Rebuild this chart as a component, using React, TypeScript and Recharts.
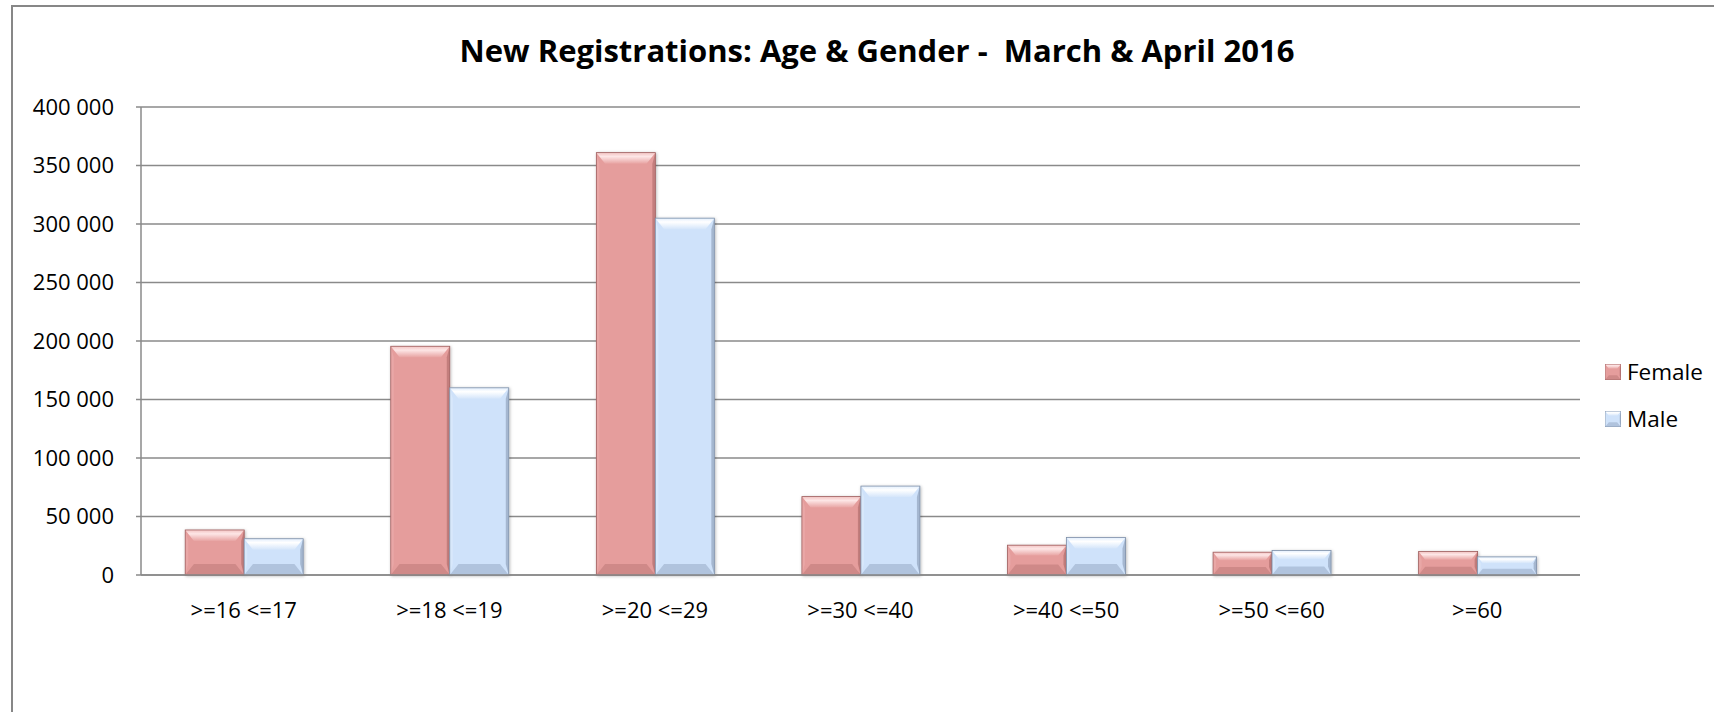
import { BarChart, Bar, XAxis, YAxis, CartesianGrid } from 'recharts';

const categories = ['>=16 <=17', '>=18 <=19', '>=20 <=29', '>=30 <=40', '>=40 <=50', '>=50 <=60', '>=60'];
const femaleValues = [38500, 195500, 361000, 67000, 25500, 19500, 20000];
const maleValues = [31000, 160000, 305000, 76000, 32000, 21000, 15500];
const yTicks = [0, 50000, 100000, 150000, 200000, 250000, 300000, 350000, 400000];
const seriesNames = ['Female', 'Male'];

const FONT = "'Open Sans', 'Liberation Sans', sans-serif";
const GRID = '#8a8a8a';

const chartData = categories.map((cat, i) => ({
  cat,
  female: femaleValues[i],
  male: maleValues[i],
}));

const FEMALE_PAL = {
  id: 'fem',
  base: '#e59d9c',
  topA: '#f3c3c2',
  topB: '#fde6e6',
  topC: '#e8a4a3',
  bottom: '#cf8988',
  left: '#e9a7a6',
  right: '#c47e7d',
  edge: '#9e6161',
};
const MALE_PAL = {
  id: 'mal',
  base: '#cfe2fa',
  topA: '#e2eefd',
  topB: '#ffffff',
  topC: '#d4e5fa',
  bottom: '#b0c3dd',
  left: '#d8e8fb',
  right: '#a5b7d0',
  edge: '#7f90a8',
};

const fmt = (v: number) => String(v).replace(/\B(?=(\d{3})+(?!\d))/g, ' ');

function Bevel({ x, y, w, h, pal, maxB = 11 }: any) {
  if (!h || h <= 0) return null;
  const b = Math.min(maxB, h * 0.35, w * 0.3);
  const bx = b * 0.8;
  const s = Math.min(3, w * 0.08);
  return (
    <g>
      <rect x={x} y={y} width={w} height={h} fill={pal.base} />
      <polygon points={`${x},${y} ${x + s},${y + b} ${x + s},${y + h - b} ${x},${y + h}`} fill={pal.left} />
      <polygon points={`${x + w},${y} ${x + w - s},${y + b} ${x + w - s},${y + h - b} ${x + w},${y + h}`} fill={pal.right} />
      <polygon points={`${x},${y} ${x + w},${y} ${x + w - bx},${y + b} ${x + bx},${y + b}`} fill={`url(#${pal.id}Top)`} />
      <polygon points={`${x},${y + h} ${x + w},${y + h} ${x + w - bx},${y + h - b} ${x + bx},${y + h - b}`} fill={pal.bottom} />
      <rect x={x} y={y} width={w} height={h} fill="none" stroke={pal.edge} strokeWidth={0.8} />
    </g>
  );
}

function BevelBar(props: any) {
  const { x, y, width, height, pal } = props;
  return (
    <g filter="url(#barShadow)">
      <Bevel x={x} y={y} w={width} h={height} pal={pal} />
    </g>
  );
}

function Gradients() {
  return (
    <svg width={0} height={0} style={{ position: 'absolute' }}>
      <defs>
        {[FEMALE_PAL, MALE_PAL].map((p) => (
          <linearGradient key={p.id} id={`${p.id}Top`} x1="0" y1="0" x2="0" y2="1">
            <stop offset="0%" stopColor={p.topA} />
            <stop offset="35%" stopColor={p.topB} />
            <stop offset="100%" stopColor={p.topC} />
          </linearGradient>
        ))}
        <filter id="barShadow" x="-20%" y="-20%" width="140%" height="140%">
          <feDropShadow dx="0.8" dy="0.8" stdDeviation="1.8" floodColor="#000" floodOpacity="0.28" />
        </filter>
      </defs>
    </svg>
  );
}

export default function App() {
  return (
    <div style={{ position: 'absolute', left: 0, top: 0, width: 1714, height: 712, overflow: 'hidden', background: '#fff' }}>
      <Gradients />
      <div
        style={{
          position: 'absolute', left: 11, top: 5, width: 1760, height: 760,
          borderLeft: '2px solid #878787', borderTop: '2px solid #878787',
        }}
      />
      <div
        style={{
          position: 'absolute', left: 27, top: 30, width: 1700, textAlign: 'center',
          fontFamily: FONT, fontWeight: 700, fontSize: 31, lineHeight: '40px', color: '#000', whiteSpace: 'pre',
        }}
      >
        New Registrations: Age &amp; Gender -  March &amp; April 2016
      </div>
      <div style={{ position: 'absolute', left: 0, top: 0 }}>
        <BarChart
          width={1714}
          height={712}
          data={chartData}
          margin={{ top: 107, right: 134, bottom: 77, left: 0 }}
          barCategoryGap="21.5%"
          barGap={0}
        >
          <CartesianGrid vertical={false} stroke={GRID} strokeWidth={1.5} />
          <XAxis
            dataKey="cat"
            height={60}
            axisLine={{ stroke: GRID, strokeWidth: 1.5 }}
            tickLine={false}
            tickSize={0}
            tickMargin={27}
            tick={{ fill: '#000', fontSize: 22, fontFamily: FONT }}
            interval={0}
          />
          <YAxis
            width={141}
            domain={[0, 400000]}
            ticks={yTicks}
            tickFormatter={fmt}
            axisLine={{ stroke: GRID, strokeWidth: 1.5 }}
            tickLine={{ stroke: GRID, strokeWidth: 1.5 }}
            tickSize={5}
            tickMargin={22}
            tick={{ fill: '#000', fontSize: 22, fontFamily: FONT }}
          />
          <Bar dataKey="female" name="Female" isAnimationActive={false} shape={(p: any) => <BevelBar {...p} pal={FEMALE_PAL} />} />
          <Bar dataKey="male" name="Male" isAnimationActive={false} shape={(p: any) => <BevelBar {...p} pal={MALE_PAL} />} />
        </BarChart>
      </div>
      <div style={{ position: 'absolute', left: 1605, top: 348, fontFamily: FONT, fontSize: 22.5, color: '#000' }}>
        {seriesNames.map((name, i) => (
          <div key={name} style={{ display: 'flex', alignItems: 'center', height: 47 }}>
            <svg width={16} height={16} style={{ marginRight: 6 }}>
              <Bevel x={0} y={0} w={16} h={16} pal={i === 0 ? FEMALE_PAL : MALE_PAL} maxB={6} />
            </svg>
            <span>{name}</span>
          </div>
        ))}
      </div>
    </div>
  );
}
